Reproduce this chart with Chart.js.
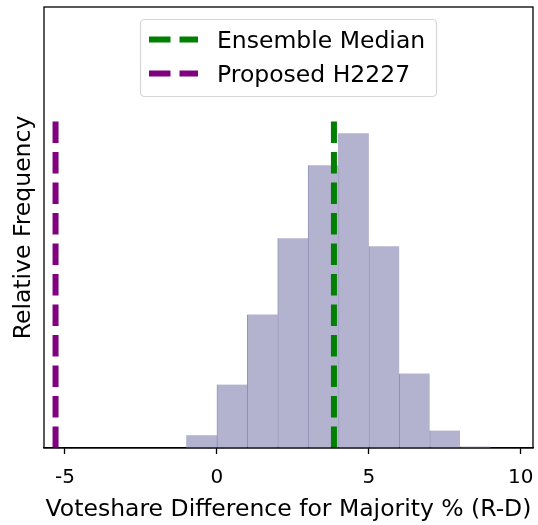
<!DOCTYPE html>
<html>
<head>
<meta charset="utf-8">
<script src="https://cdn.jsdelivr.net/npm/chart.js@4"></script>
<style>
  html, body { margin: 0; padding: 0; background: #fff; }
  canvas { display: block; }
</style>
</head>
<body>
<canvas id="chart_1" width="538" height="525"></canvas>
<script>
// histogram bins (left edge) and relative frequency
const binStarts = [-1, 0, 1, 2, 3, 4, 5, 6, 7, 8]
const binFreq = [0.0095, 0.0484, 0.1018, 0.1598, 0.2155, 0.2399, 0.1537, 0.0568, 0.0133, 0.0011]
const xTicks = [-5, 0, 5, 10]
const ensembleMedian = 3.85
const proposedPlan = -5.31
const lineTop = 0.252
const lineLabels = ['Ensemble Median', 'Proposed H2227']
const lineColors = ['#008000', '#800080']

const FONT = '"DejaVu Sans", sans-serif'

const frame = {
  id: 'frame',
  afterDraw(chart) {
    const { ctx, chartArea: a } = chart
    ctx.save()
    ctx.strokeStyle = '#000'
    ctx.lineWidth = 1.3
    ctx.strokeRect(a.left, a.top, a.right - a.left, a.bottom - a.top)

    // y title
    ctx.fillStyle = '#000'
    ctx.font = '23.5px ' + FONT
    ctx.textAlign = 'center'
    ctx.textBaseline = 'alphabetic'
    ctx.translate(30, (a.top + a.bottom) / 2)
    ctx.rotate(-Math.PI / 2)
    ctx.fillText('Relative Frequency', 0, 0)
    ctx.restore()

    // legend box
    ctx.save()
    const bx = 140.5, by = 19.5, bw = 296, bh = 77
    ctx.beginPath()
    ctx.roundRect(bx, by, bw, bh, 4)
    ctx.fillStyle = 'rgba(255,255,255,0.8)'
    ctx.fill()
    ctx.strokeStyle = '#d6d6d6'
    ctx.lineWidth = 1.2
    ctx.stroke()
    ctx.font = '23.5px ' + FONT
    ctx.textBaseline = 'alphabetic'
    ctx.textAlign = 'left'
    lineLabels.forEach((lab, i) => {
      const cy = by + 20 + i * 34
      ctx.strokeStyle = lineColors[i]
      ctx.lineWidth = 6
      ctx.lineCap = 'butt'
      ctx.setLineDash([21.5, 9])
      ctx.beginPath()
      ctx.moveTo(149, cy)
      ctx.lineTo(198, cy)
      ctx.stroke()
      ctx.setLineDash([])
      ctx.fillStyle = '#000'
      ctx.fillText(lab, 217, cy + 8.5)
    })
    ctx.restore()
  }
}

const Chart = window.Chart
new Chart('chart_1', {
  type: 'bar',
  data: {
    datasets: [
      {
        type: 'line',
        label: lineLabels[0],
        data: [{ x: ensembleMedian, y: 0 }, { x: ensembleMedian, y: lineTop }],
        borderColor: lineColors[0],
        borderWidth: 6,
        borderDash: [21.5, 9],
        borderCapStyle: 'butt',
        pointRadius: 0,
        order: 0
      },
      {
        type: 'line',
        label: lineLabels[1],
        data: [{ x: proposedPlan, y: 0 }, { x: proposedPlan, y: lineTop }],
        borderColor: lineColors[1],
        borderWidth: 6,
        borderDash: [21.5, 9],
        borderCapStyle: 'butt',
        pointRadius: 0,
        order: 0
      },
      {
        label: 'Ensemble',
        data: binStarts.map((b, i) => ({ x: b + 0.5, y: binFreq[i] })),
        backgroundColor: '#b3b3cf',
        borderColor: 'rgba(110,110,160,0.75)',
        borderWidth: binStarts.map((b, i) => i === 0 ? 0 : { top: 0, right: 0, bottom: 0, left: 1 }),
        borderSkipped: false,
        barPercentage: 1,
        categoryPercentage: 1,
        order: 1
      }
    ]
  },
  options: {
    responsive: false,
    animation: false,
    layout: { padding: { left: 44, right: 5, top: 7, bottom: 3 } },
    plugins: { legend: { display: false }, tooltip: { enabled: false } },
    scales: {
      x: {
        type: 'linear',
        offset: false,
        min: -5.69,
        max: 10.4,
        afterBuildTicks: s => { s.ticks = xTicks.map(v => ({ value: v })) },
        afterFit: s => { s.paddingLeft = 0; s.paddingRight = 0; s.height = 74 },
        grid: { offset: false, drawOnChartArea: false, drawTicks: true, tickLength: 6, tickWidth: 1.3, tickColor: '#000' },
        border: { display: true, color: '#000', width: 1.3 },
        ticks: { color: '#000', font: { family: FONT, size: 20 }, padding: 12, maxRotation: 0 },
        title: { display: true, text: 'Voteshare Difference for Majority % (R-D)', color: '#000', font: { family: FONT, size: 23.5, lineHeight: 1.0 }, padding: { top: 4, bottom: 0 } }
      },
      y: {
        display: false,
        min: 0,
        max: 0.336
      }
    }
  },
  plugins: [frame]
})
</script>
</body>
</html>
